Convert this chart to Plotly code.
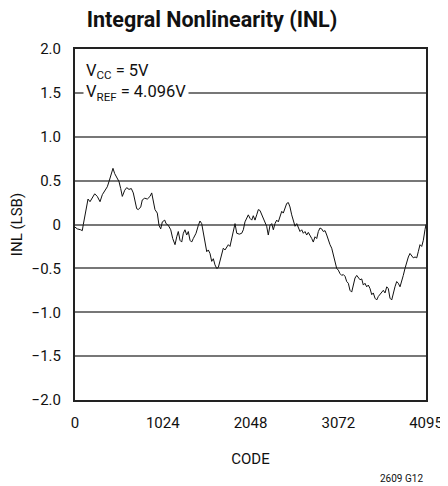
import plotly.graph_objects as go

code = [0, 8, 27, 66, 85, 97, 125, 152, 175, 202, 230, 260, 292, 319, 347, 377, 397, 417, 443, 463, 487,
        513, 533, 552, 580, 603, 630, 657, 680, 700, 720, 739, 767, 785, 813, 844, 875, 895, 914, 933,
        960, 980, 1000, 1019, 1047, 1062, 1089, 1117, 1140, 1167, 1187, 1205, 1225, 1245, 1264, 1283,
        1303, 1322, 1342, 1361, 1380, 1412, 1439, 1458, 1478, 1497, 1517, 1537, 1555, 1575, 1595, 1614,
        1633, 1653, 1672, 1692, 1712, 1730, 1750, 1770, 1789, 1808, 1828, 1847, 1867, 1887, 1917, 1945,
        1964, 1983, 2003, 2022, 2042, 2062, 2080, 2100, 2120, 2139, 2158, 2178, 2197, 2217, 2236, 2255,
        2275, 2295, 2314, 2333, 2353, 2372, 2392, 2412, 2430, 2450, 2470, 2489, 2508, 2528, 2547, 2567,
        2587, 2605, 2625, 2645, 2664, 2683, 2703, 2722, 2742, 2762, 2780, 2800, 2820, 2839, 2858, 2878,
        2897, 2917, 2937, 2955, 2975, 2995, 3014, 3033, 3053, 3072, 3092, 3112, 3130, 3150, 3170, 3189,
        3208, 3228, 3247, 3267, 3287, 3305, 3325, 3345, 3364, 3383, 3403, 3422, 3442, 3462, 3480, 3500,
        3520, 3539, 3558, 3578, 3597, 3617, 3637, 3655, 3675, 3695, 3714, 3733, 3753, 3772, 3792, 3812,
        3830, 3850, 3870, 3889, 3908, 3928, 3947, 3967, 3987, 4005, 4025, 4045, 4064, 4083, 4095]

inl = [-0.03, -0.04, -0.05, -0.06, -0.07, 0.00, 0.17, 0.29, 0.26, 0.31, 0.35, 0.32, 0.26, 0.34, 0.39, 0.43,
       0.49, 0.56, 0.64, 0.58, 0.54, 0.49, 0.41, 0.32, 0.39, 0.42, 0.40, 0.41, 0.36, 0.28, 0.18, 0.17,
       0.20, 0.28, 0.30, 0.29, 0.32, 0.36, 0.24, 0.17, 0.13, -0.01, -0.05, 0.03, 0.05, 0.01, -0.01,
       -0.06, -0.16, -0.23, -0.14, -0.08, -0.18, -0.20, -0.10, -0.06, -0.12, -0.08, -0.18, -0.20, -0.16,
       -0.10, -0.01, 0.04, 0.01, -0.10, -0.21, -0.31, -0.29, -0.33, -0.42, -0.39, -0.46, -0.50, -0.49,
       -0.42, -0.33, -0.27, -0.29, -0.25, -0.23, -0.25, -0.16, -0.06, 0.01, -0.10, -0.11, -0.10, -0.06,
       0.03, 0.08, 0.11, 0.07, 0.05, 0.10, 0.05, 0.11, 0.17, 0.16, 0.11, 0.07, 0.01, -0.02, -0.12,
       -0.01, 0.01, -0.06, 0.01, 0.05, 0.03, 0.09, 0.15, 0.13, 0.18, 0.24, 0.25, 0.20, 0.11, 0.03,
       -0.02, 0.01, -0.04, -0.08, -0.06, -0.10, -0.08, -0.12, -0.09, -0.12, -0.16, -0.20, -0.14, -0.16,
       -0.08, -0.04, -0.05, -0.08, -0.07, -0.12, -0.18, -0.23, -0.27, -0.35, -0.44, -0.50, -0.52, -0.56,
       -0.58, -0.57, -0.59, -0.65, -0.67, -0.75, -0.77, -0.67, -0.61, -0.58, -0.61, -0.63, -0.62, -0.69,
       -0.67, -0.71, -0.69, -0.73, -0.80, -0.78, -0.84, -0.86, -0.82, -0.80, -0.77, -0.75, -0.78, -0.71,
       -0.73, -0.84, -0.86, -0.77, -0.71, -0.65, -0.67, -0.71, -0.65, -0.58, -0.50, -0.42, -0.37, -0.33,
       -0.35, -0.38, -0.37, -0.38, -0.31, -0.23, -0.25, -0.18, -0.06, 0.00]

x_ticks = [0, 1024, 2048, 3072, 4095]
y_ticks = [-2.0, -1.5, -1.0, -0.5, 0, 0.5, 1.0, 1.5, 2.0]
y_labels = ["−2.0", "−1.5", "−1.0", "−0.5", "0", "0.5", "1.0", "1.5", "2.0"]

FONT = "Roboto, Liberation Sans, sans-serif"

fig = go.Figure()
fig.add_trace(go.Scatter(x=code, y=inl, mode="lines",
                         line=dict(color="#111111", width=1), showlegend=False))

# page body has an 8px default margin, so the figure is 8px smaller and shifted
fig.update_layout(
    width=440, height=478,
    margin=dict(l=67, r=22, t=41, b=86, autoexpand=False),
    paper_bgcolor="white", plot_bgcolor="white",
    font=dict(family=FONT, size=15, color="#111111"),
    title=dict(text="<b>Integral Nonlinearity (INL)</b>", x=0.4636, xanchor="center",
               y=0.975, yanchor="middle", font=dict(size=21.5, family=FONT)),
    xaxis=dict(range=[0, 4095], tickvals=x_ticks, ticktext=[str(v) for v in x_ticks],
               showgrid=False, zeroline=False, showline=True, mirror=True, automargin=False,
               linecolor="#222222", linewidth=2, ticks="", ticklabelstandoff=8,
               title=dict(text="CODE", standoff=22, font=dict(size=15))),
    yaxis=dict(range=[-2, 2], tickvals=y_ticks, ticktext=y_labels,
               showgrid=True, gridcolor="#777777", gridwidth=1.5, automargin=False,
               zeroline=False, showline=True, mirror=True,
               linecolor="#222222", linewidth=2, ticks="", ticklabelstandoff=9,
               title=dict(text="INL (LSB)", standoff=6, font=dict(size=15))),
)

fig.add_annotation(xref="paper", yref="paper", x=0.023, y=0.975, xanchor="left", yanchor="top",
                   text="V<sub>CC</sub> = 5V<br>V<sub>REF</sub> = 4.096V", align="left",
                   showarrow=False, bgcolor="white", borderpad=2,
                   font=dict(size=16.5, family=FONT, color="#111111"))

fig.add_annotation(xref="paper", yref="paper", x=0.997, y=-0.225, xanchor="right", yanchor="middle",
                   text="2609 G12", showarrow=False, font=dict(size=10, family=FONT))

fig.write_html("out.html")
